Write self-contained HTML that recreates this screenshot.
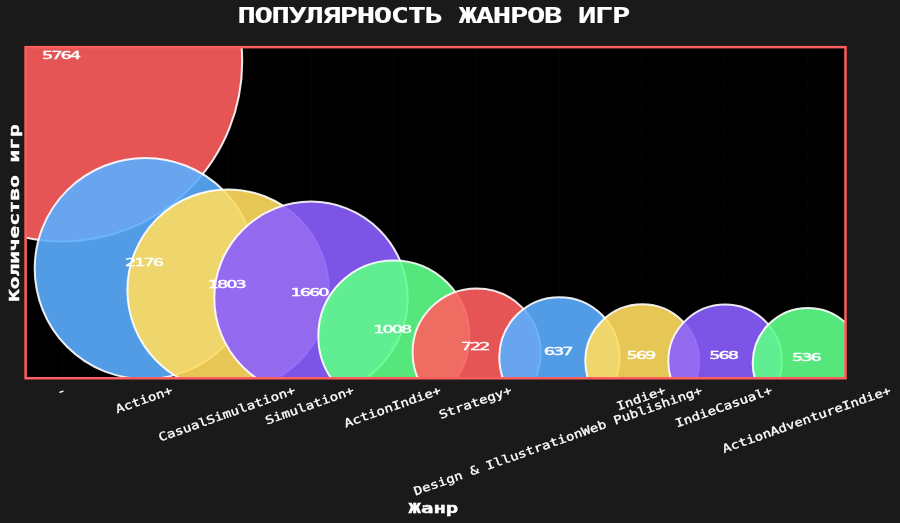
<!DOCTYPE html>
<html lang="ru"><head><meta charset="utf-8"><title>Популярность жанров игр</title>
<style>html,body{margin:0;padding:0;background:#1a1a1a;overflow:hidden}svg{display:block}text{white-space:pre}.t{font-family:"DejaVu Sans Mono","Liberation Mono",monospace;font-weight:bold;fill:#fff}.v{font-family:"DejaVu Sans","Liberation Sans",sans-serif;fill:#fff}.k{font-family:"DejaVu Sans Mono","Liberation Mono",monospace;fill:#fff}</style></head><body>
<svg width="900" height="523" viewBox="0 0 900 523">
<rect width="900" height="523" fill="#1a1a1a"/>
<rect x="25.6" y="47.15" width="819.9" height="331.1" fill="#000"/>
<defs><clipPath id="c"><rect x="25.6" y="47.15" width="819.9" height="331.1"/></clipPath></defs>
<g stroke="#0d0d0d" stroke-width="1" stroke-dasharray="1.5 1.5"><line x1="62.5" y1="47.15" x2="62.5" y2="378.2"/><line x1="145.3" y1="47.15" x2="145.3" y2="378.2"/><line x1="228.1" y1="47.15" x2="228.1" y2="378.2"/><line x1="311.0" y1="47.15" x2="311.0" y2="378.2"/><line x1="393.8" y1="47.15" x2="393.8" y2="378.2"/><line x1="476.6" y1="47.15" x2="476.6" y2="378.2"/><line x1="559.4" y1="47.15" x2="559.4" y2="378.2"/><line x1="642.2" y1="47.15" x2="642.2" y2="378.2"/><line x1="725.1" y1="47.15" x2="725.1" y2="378.2"/><line x1="807.9" y1="47.15" x2="807.9" y2="378.2"/></g>
<g clip-path="url(#c)" stroke="#fff" stroke-width="2.0">
<circle cx="62.5" cy="61.7" r="179.7" fill="#ff5e5e" fill-opacity="0.9" stroke-opacity="0.9"/>
<circle cx="145.3" cy="268.6" r="110.6" fill="#5badff" fill-opacity="0.9" stroke-opacity="0.9"/>
<circle cx="228.1" cy="290.1" r="100.7" fill="#ffdc5e" fill-opacity="0.9" stroke-opacity="0.9"/>
<circle cx="311.0" cy="298.3" r="96.7" fill="#8a5eff" fill-opacity="0.9" stroke-opacity="0.9"/>
<circle cx="393.8" cy="335.9" r="75.5" fill="#5eff8a" fill-opacity="0.9" stroke-opacity="0.9"/>
<circle cx="476.6" cy="352.4" r="64.0" fill="#ff5e5e" fill-opacity="0.9" stroke-opacity="0.9"/>
<circle cx="559.4" cy="357.3" r="60.1" fill="#5badff" fill-opacity="0.9" stroke-opacity="0.9"/>
<circle cx="642.2" cy="361.2" r="56.9" fill="#ffdc5e" fill-opacity="0.9" stroke-opacity="0.9"/>
<circle cx="725.1" cy="361.3" r="56.8" fill="#8a5eff" fill-opacity="0.9" stroke-opacity="0.9"/>
<circle cx="807.9" cy="363.1" r="55.2" fill="#5eff8a" fill-opacity="0.9" stroke-opacity="0.9"/>
</g>
<rect x="25.6" y="47.15" width="819.9" height="331.1" fill="none" stroke="#ff5e5e" stroke-width="2.5"/>
<text class="v" transform="translate(61.60 59.31) scale(1.5837 1)" x="-12.32" y="0" font-size="11.2" stroke="#fff" stroke-width="0.4" letter-spacing="-1.285">5764</text>
<text class="v" transform="translate(144.42 266.15) scale(1.5837 1)" x="-12.32" y="0" font-size="11.2" stroke="#fff" stroke-width="0.4" letter-spacing="-1.285">2176</text>
<text class="v" transform="translate(227.24 287.66) scale(1.5837 1)" x="-12.32" y="0" font-size="11.2" stroke="#fff" stroke-width="0.4" letter-spacing="-1.285">1803</text>
<text class="v" transform="translate(310.06 295.90) scale(1.5837 1)" x="-12.32" y="0" font-size="11.2" stroke="#fff" stroke-width="0.4" letter-spacing="-1.285">1660</text>
<text class="v" transform="translate(392.88 333.49) scale(1.5837 1)" x="-12.32" y="0" font-size="11.2" stroke="#fff" stroke-width="0.4" letter-spacing="-1.285">1008</text>
<text class="v" transform="translate(475.70 349.98) scale(1.5837 1)" x="-9.40" y="0" font-size="11.2" stroke="#fff" stroke-width="0.4" letter-spacing="-1.285">722</text>
<text class="v" transform="translate(558.52 354.88) scale(1.5837 1)" x="-9.40" y="0" font-size="11.2" stroke="#fff" stroke-width="0.4" letter-spacing="-1.285">637</text>
<text class="v" transform="translate(641.34 358.80) scale(1.5837 1)" x="-9.40" y="0" font-size="11.2" stroke="#fff" stroke-width="0.4" letter-spacing="-1.285">569</text>
<text class="v" transform="translate(724.16 358.86) scale(1.5837 1)" x="-9.40" y="0" font-size="11.2" stroke="#fff" stroke-width="0.4" letter-spacing="-1.285">568</text>
<text class="v" transform="translate(806.98 360.70) scale(1.5837 1)" x="-9.40" y="0" font-size="11.2" stroke="#fff" stroke-width="0.4" letter-spacing="-1.285">536</text>
<text class="k" transform="translate(62.50 394.92) rotate(-19.5) scale(1.2142 1)" x="-3.49" y="0" font-size="11.6" stroke="#fff" stroke-width="0.3">-</text>
<text class="k" transform="translate(145.32 403.41) rotate(-19.5) scale(1.2142 1)" x="-24.44" y="0" font-size="11.6" stroke="#fff" stroke-width="0.3">Action+</text>
<text class="k" transform="translate(228.14 417.56) rotate(-19.5) scale(1.2142 1)" x="-59.36" y="0" font-size="11.6" stroke="#fff" stroke-width="0.3">CasualSimulation+</text>
<text class="k" transform="translate(310.96 409.07) rotate(-19.5) scale(1.2142 1)" x="-38.41" y="0" font-size="11.6" stroke="#fff" stroke-width="0.3">Simulation+</text>
<text class="k" transform="translate(393.78 410.48) rotate(-19.5) scale(1.2142 1)" x="-41.90" y="0" font-size="11.6" stroke="#fff" stroke-width="0.3">ActionIndie+</text>
<text class="k" transform="translate(476.60 406.24) rotate(-19.5) scale(1.2142 1)" x="-31.43" y="0" font-size="11.6" stroke="#fff" stroke-width="0.3">Strategy+</text>
<text class="k" transform="translate(559.42 444.45) rotate(-19.5) scale(1.2142 1)" x="-125.71" y="0" font-size="11.6" stroke="#fff" stroke-width="0.3">Design &amp; IllustrationWeb Publishing+</text>
<text class="k" transform="translate(642.24 401.99) rotate(-19.5) scale(1.2142 1)" x="-20.95" y="0" font-size="11.6" stroke="#fff" stroke-width="0.3">Indie+</text>
<text class="k" transform="translate(725.06 410.48) rotate(-19.5) scale(1.2142 1)" x="-41.90" y="0" font-size="11.6" stroke="#fff" stroke-width="0.3">IndieCasual+</text>
<text class="k" transform="translate(807.88 423.22) rotate(-19.5) scale(1.2142 1)" x="-73.33" y="0" font-size="11.6" stroke="#fff" stroke-width="0.3">ActionAdventureIndie+</text>
<text class="t" transform="translate(434.00 22.70) scale(1.4830 1)" x="-132.52" y="0" font-size="20.6" stroke="#fff" stroke-width="0.12" letter-spacing="-0.919">ПОПУЛЯРНОСТЬ ЖАНРОВ ИГР</text>
<text class="t" transform="translate(433.40 513.20) scale(1.4925 1)" x="-16.62" y="0" font-size="13.8" stroke="#fff" stroke-width="0.4">Жанр</text>
<text class="t" transform="translate(18.90 213.10) rotate(-90) scale(1.5262 1)" x="-58.16" y="0" font-size="13.8" stroke="#fff" stroke-width="0.4">Количество игр</text>
</svg></body></html>
